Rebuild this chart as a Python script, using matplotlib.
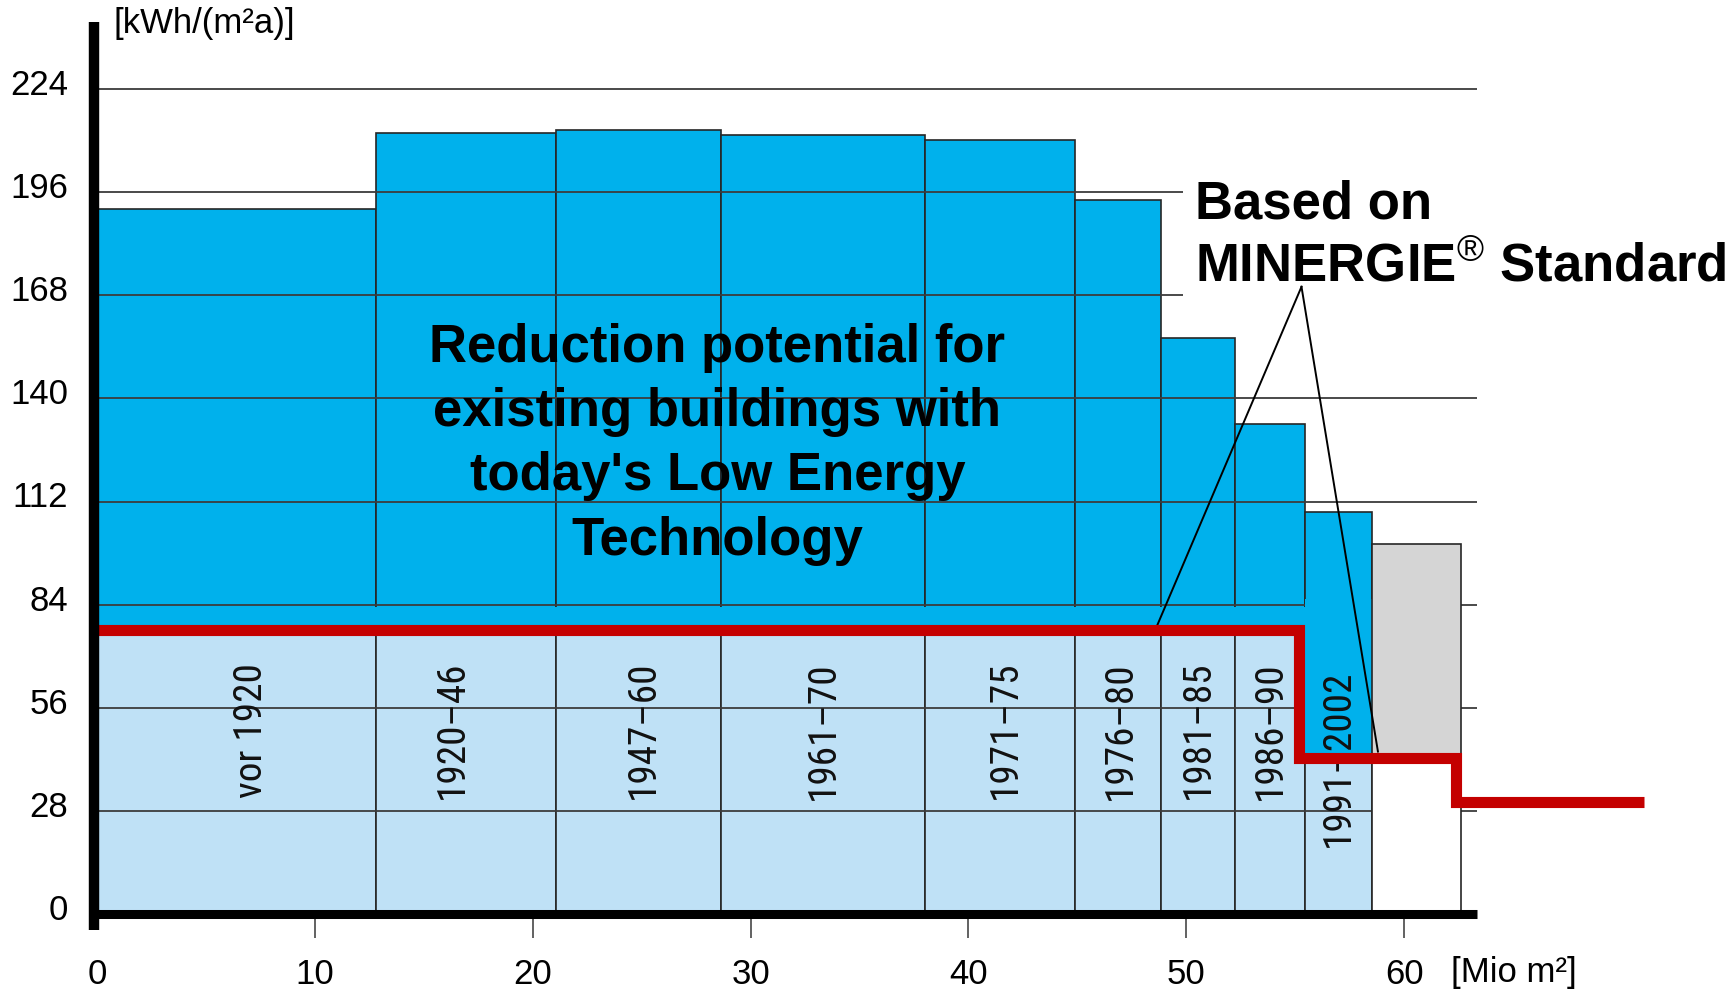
import matplotlib
matplotlib.use("Agg")
import matplotlib.pyplot as plt
from matplotlib import font_manager
from matplotlib.font_manager import FontProperties
from matplotlib.patches import Rectangle
import numpy as np

# ---------------- data ----------------
periods = ["vor 1920", "1920–46", "1947–60", "1961–70", "1971–75",
           "1976–80", "1981–85", "1986–90", "1991–2002"]
floor_area = [12.79, 8.26, 7.59, 9.36, 6.87, 3.97, 3.40, 3.21, 3.08]          # Mio m2
current_demand = [191.3, 212.1, 212.8, 211.6, 210.1, 193.8, 156.3, 133.2, 109.1]  # kWh/(m2a)
retrofit_demand = [77.2, 77.2, 77.2, 77.2, 77.2, 77.2, 77.2, 77.2, 42.5]        # MINERGIE level

new_area = 4.08          # new buildings (grey bar)
new_demand = 100.4
new_minergie = 42.5

minergie_x = [0, 55.17, 55.17, 62.38, 62.38, 71.0]
minergie_y = [77.2, 77.2, 42.5, 42.5, 30.6, 30.6]

y_ticks = [0, 28, 56, 84, 112, 140, 168, 196, 224]
x_ticks = [0, 10, 20, 30, 40, 50, 60]

# ---------------- layout / style ----------------
label_dx = [0.7, -0.6, 0.25, 0.0, 0.25, 0.1, 0.0, 0.0, 0.0]
label_y_hi, label_y_lo = 50.0, 42.4

BASE = "Liberation Sans"
plt.rcParams["font.family"] = [BASE, "DejaVu Sans"]
plt.rcParams["mathtext.fontset"] = "custom"
plt.rcParams["mathtext.rm"] = BASE
plt.rcParams["mathtext.it"] = BASE + ":italic"
plt.rcParams["mathtext.bf"] = BASE + ":bold"

# look for a narrow / condensed sans face for the rotated period labels
label_fp = None
prefs = ["LiberationSansNarrow-Regular", "ArialNarrow", "RobotoCondensed-Regular",
         "OpenSans_Condensed-Regular", "OpenSansCondensed", "NotoSans-Condensed",
         "DejaVuSansCondensed.ttf"]
files = [f.fname for f in font_manager.fontManager.ttflist]
for p in prefs:
    hit = [f for f in files if p.lower() in f.lower().replace(" ", "")]
    if hit:
        label_fp = FontProperties(fname=sorted(hit, key=len)[0])
        break
if label_fp is None:
    label_fp = FontProperties(family=[BASE, "DejaVu Sans"])

DARK = "#00B1EC"
LIGHT = "#BFE1F6"
GRAY = "#D5D5D5"
EDGE = "#262626"
RED = "#C40000"
GRID = "#3c3c3c"

W, H = 1736, 994
fig = plt.figure(figsize=(W / 100, H / 100), dpi=100)
ax = fig.add_axes([0, 0, 1, 1])
ax.set_xlim(-4.467, 75.24)
ax.set_ylim(-21.57, 248.1)
ax.axis("off")

left = np.concatenate([[0.0], np.cumsum(floor_area)[:-1]])
width = np.array(floor_area)
cur = np.array(current_demand)
ret = np.array(retrofit_demand)

# full bars (today's demand)
ax.bar(left, cur, width=width, align="edge", color=DARK, edgecolor=EDGE,
       linewidth=1.2, zorder=1)
# achievable part (light blue)
ax.bar(left, ret, width=width, align="edge", color=LIGHT, edgecolor=EDGE,
       linewidth=1.2, zorder=1.1)

# gridlines
x_end = 63.35
ax.hlines(y_ticks[1:], 0, x_end, color=GRID, lw=1.3, zorder=1.5)

# plain blue band just above the MINERGIE level (no cell edges)
band_top = np.where(ret > 60, 83.4, 85.5)
ax.bar(left, band_top - ret, bottom=ret, width=width, align="edge",
       color=DARK, linewidth=0, zorder=1.6)

# new buildings bar (grey above, white below the MINERGIE level)
x_new = left[-1] + width[-1]
ax.bar(x_new, new_demand - new_minergie, bottom=new_minergie, width=new_area,
       align="edge", color=GRAY, edgecolor=EDGE, linewidth=1.2, zorder=1.7)
ax.bar(x_new, new_minergie, width=new_area, align="edge", color="white",
       edgecolor=EDGE, linewidth=1.2, zorder=1.7)

# white box behind the MINERGIE caption
ax.add_patch(Rectangle((49.87, 157.5), 30, 50.8, facecolor="white",
                       edgecolor="none", zorder=1.8))

# pointer lines
apex = (55.29, 170.3)
ax.plot([apex[0], 48.59], [apex[1], 77.4], color="black", lw=1.4, zorder=2.8)
ax.plot([apex[0], 58.8], [apex[1], 44.2], color="black", lw=1.4, zorder=2.8)

# MINERGIE standard (red step line)
ax.plot(minergie_x, minergie_y, color=RED, lw=8, solid_joinstyle="miter",
        solid_capstyle="butt", zorder=3)

# axes lines
ax.plot([-0.15, -0.15], [-4.2, 242.2], color="black", lw=7.5,
        solid_capstyle="butt", zorder=4)
ax.plot([-0.15, x_end], [0, 0], color="black", lw=6.5,
        solid_capstyle="butt", zorder=4)
ax.vlines(x_ticks[1:], -6.4, -0.5, color="#555555", lw=1.3, zorder=3)

# tick labels
for v in y_ticks:
    ax.text(-1.35, v + 1.0, str(v), ha="right", va="center", fontsize=25,
            color="black")
for v in x_ticks:
    ax.text(v, -16.4, str(v), ha="center", va="center", fontsize=25,
            color="black")

ax.text(0.73, 241.6, "[kWh/(m²a)]", ha="left", va="center", fontsize=25)
ax.text(62.15, -15.8, "[Mio m²]", ha="left", va="center", fontsize=25)

# period labels inside the bars; size chosen so "vor 1920" is ~135 px long
renderer = fig.canvas.get_renderer()
probe = ax.text(0, 0, periods[0], rotation=90, fontproperties=label_fp)
probe.set_fontsize(25)
ext = probe.get_window_extent(renderer)
probe.remove()
lab_size = 25 * 135.0 / max(ext.height, 1)
lab_size = min(max(lab_size, 20), 34)

for x0, w, p, r, dx in zip(left, width, periods, ret, label_dx):
    ly = label_y_hi if r > 60 else label_y_lo
    t = ax.text(x0 + w / 2 + dx, ly, p, rotation=90, ha="center", va="center",
                fontproperties=label_fp, color="#111111", zorder=2.9)
    t.set_fontsize(lab_size)

# big captions
ax.text(28.47, 127.6,
        "Reduction potential for\nexisting buildings with\ntoday's Low Energy\nTechnology",
        ha="center", va="center", fontsize=38, fontweight="bold",
        linespacing=1.37, color="black", zorder=5)
ax.text(50.4, 188.9, "Based on", ha="left", va="baseline", fontsize=38,
        fontweight="bold", color="black", zorder=5)
ax.text(50.4, 171.7, r"MINERGIE$^{\circledR}$ Standard", ha="left",
        va="baseline", fontsize=38, fontweight="bold", color="black", zorder=5)

fig.savefig("out.png", dpi=100, facecolor="white")
